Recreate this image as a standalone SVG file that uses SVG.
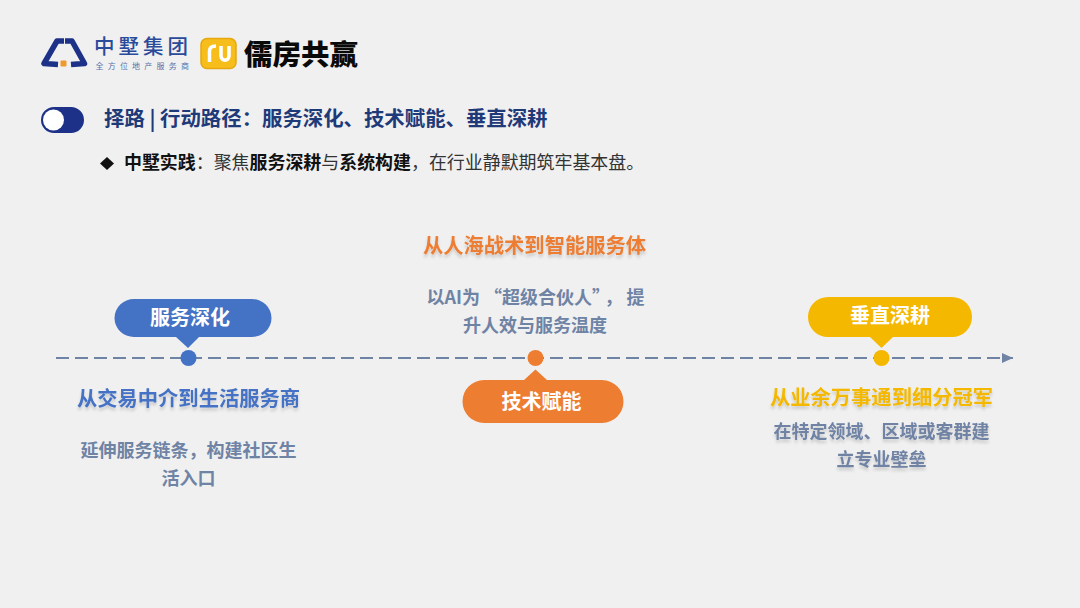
<svg xmlns="http://www.w3.org/2000/svg" width="1080" height="608" viewBox="0 0 1080 608">
<defs>
<style>
text{font-family:"Noto Sans CJK SC","Noto Sans",sans-serif}
.pill{font-size:20px;font-weight:700;fill:#fff;text-anchor:middle}
.title{font-size:20.300px;font-weight:700;text-anchor:middle}
.desc{font-size:18px;font-weight:700;fill:#6f83a4;text-anchor:middle}
.sub{font-size:17.950px;fill:#333}
.subb{font-weight:700;fill:#111}
</style>
<filter id="soft" x="-10%" y="-40%" width="120%" height="200%">
<feDropShadow dx="0" dy="3" stdDeviation="1.800" flood-color="#000" flood-opacity="0.16"/>
</filter>
<marker id="arrow" markerUnits="userSpaceOnUse" markerWidth="12" markerHeight="12" refX="11" refY="6" orient="auto">
<path d="M0 1L11 6L0 11Z" fill="#6f83a4"/>
</marker>
</defs>
<rect width="1080" height="608" fill="#f0f0f1"/>

<g id="logo-zhongshu">
<path d="M64 41H57L44 63.500L58 64.500" fill="none" stroke="#1c3187" stroke-width="5.500" stroke-linejoin="round"/>
<path d="M65 41H72L84.500 63.500L71 64.500" fill="none" stroke="#1c3187" stroke-width="5.500" stroke-linejoin="round"/>
<rect x="60.500" y="60.500" width="6" height="6" rx="1" fill="#ef9a2a"/>
<text x="94" y="54" font-size="20.500" font-weight="500" letter-spacing="4" fill="#2a4a9a">中墅集团</text>
<text x="95.500" y="69.300" font-size="8" letter-spacing="4.200" fill="#5a70a8">全方位地产服务商</text>
</g>
<g id="logo-rufang">
<rect x="201" y="38.500" width="35" height="30" rx="6" fill="#f7bd1a" stroke="#e5a810" stroke-width="1.500"/>
<path d="M209.500 62V51C209.500 47.500 212 46 216 46M221 46V56C221 61.500 229 61.500 229 56V46" fill="none" stroke="#fff" stroke-width="3.500"/>
<text x="244" y="65" font-size="28.500" font-weight="900" fill="#0a0a0a">儒房共赢</text>
</g>

<g id="heading">
<rect x="42" y="108" width="41" height="24" rx="12" fill="#1c3187" stroke="#1c3187" stroke-width="2"/>
<circle cx="53.500" cy="120" r="10.500" fill="#fff"/>
<text x="104" y="126" font-size="20.400" font-weight="700" fill="#1f3a78" xml:space="preserve">择路 | 行动路径：服务深化、技术赋能、垂直深耕</text>
</g>
<g id="subheading">
<path d="M107 157L114 163.500L107 170L100 163.500Z" fill="#111"/>
<text class="sub" x="124" y="169"><tspan class="subb">中墅实践</tspan>：聚焦<tspan class="subb">服务深耕</tspan>与<tspan class="subb">系统构建</tspan>，在行业静默期筑牢基本盘。</text>
</g>

<g id="connectors">
<line x1="56" y1="358" x2="1013" y2="358" stroke="#6f83a4" stroke-width="2" stroke-dasharray="13 6" marker-end="url(#arrow)"/>
</g>

<g id="node-service">
<path d="M134 299H252A19.500 19 0 0 1 252 337H199L188 348L176 337H134A19.500 19 0 0 1 134 299Z" fill="#4472c4"/>
<text class="pill" x="190" y="325">服务深化</text>
<circle cx="188.500" cy="358" r="8" fill="#4472c4"/>
<text class="title" x="188.500" y="406" fill="#4472c4" filter="url(#soft)">从交易中介到生活服务商</text>
<text class="desc"><tspan x="188.500" y="457">延伸服务链条，构建社区生</tspan><tspan x="188.500" y="485">活入口</tspan></text>
</g>

<g id="node-tech">
<path d="M484 380H524L535.500 369.500L547 380H602A21.500 21.500 0 0 1 602 423H484A21.500 21.500 0 0 1 484 380Z" fill="#ed7d31"/>
<text class="pill" x="541.500" y="409">技术赋能</text>
<circle cx="535.500" cy="358" r="8" fill="#ed7d31"/>
<text class="title" x="534.500" y="253" fill="#ed7d31" filter="url(#soft)">从人海战术到智能服务体</text>
<text class="desc"><tspan x="426.500" y="304" text-anchor="start">以AI为<tspan dx="4">“超级合伙人”</tspan><tspan dx="3.500">，</tspan><tspan dx="4">提</tspan></tspan><tspan x="535" y="332">升人效与服务温度</tspan></text>
</g>

<g id="node-vertical">
<path d="M828 297H952A20 20 0 0 1 952 337H893L881.500 348L870 337H828A20 20 0 0 1 828 297Z" fill="#f4b800"/>
<text class="pill" x="890" y="323">垂直深耕</text>
<circle cx="881.500" cy="358" r="8" fill="#f4b800"/>
<text class="title" x="881.500" y="405" fill="#f4b800" filter="url(#soft)">从业余万事通到细分冠军</text>
<text class="desc" filter="url(#soft)"><tspan x="881.500" y="438">在特定领域、区域或客群建</tspan><tspan x="881.500" y="466">立专业壁垒</tspan></text>
</g>
</svg>
